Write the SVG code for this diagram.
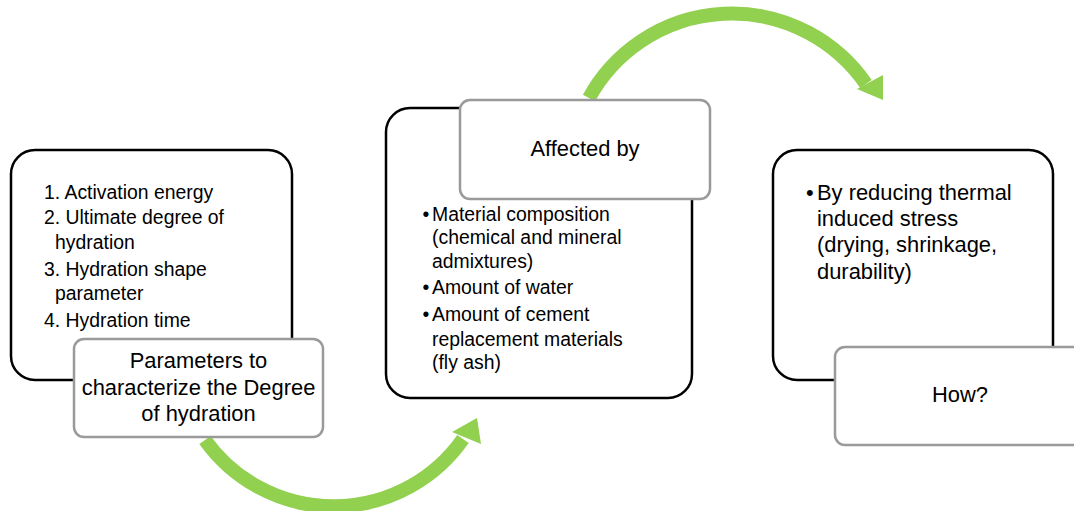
<svg xmlns="http://www.w3.org/2000/svg" width="1074" height="511" viewBox="0 0 1074 511">
<style>
.main{fill:#fff;stroke:#000;stroke-width:2.5}
.label{fill:#fff;stroke:#9a9a9a;stroke-width:2.5}
.arc{fill:none;stroke:#92D050;stroke-width:14}
.head{fill:#92D050}
text{font-family:"Liberation Sans",Arial,sans-serif;fill:#000}
.body{font-size:19.4px}
.big{font-size:21.9px}
.lab{font-size:21.9px;text-anchor:middle}
</style>
<rect width="1074" height="511" fill="#fff"/>
<g id="connectors">
<path class="arc" d="M205,440 A158,158 0 0 0 463,439"/>
<polygon class="head" points="452,432 477,418 481,444"/>
<path class="arc" d="M589,98 A163,163 0 0 1 866,84"/>
<polygon class="head" points="857,89 883,75 883,100"/>
</g>
<g id="node1">
<rect class="main" x="11" y="150" width="281" height="230" rx="24"/>
<text class="body" x="44" y="199">1. Activation energy</text>
<text class="body" x="44" y="224">2. Ultimate degree of</text>
<text class="body" x="55" y="249">hydration</text>
<text class="body" x="44" y="276">3. Hydration shape</text>
<text class="body" x="55" y="300">parameter</text>
<text class="body" x="44" y="327">4. Hydration time</text>
</g>
<g id="label1">
<rect class="label" x="74" y="339" width="249" height="98" rx="10"/>
<text class="lab" x="198.5" y="368">Parameters to</text>
<text class="lab" x="198.5" y="395">characterize the Degree</text>
<text class="lab" x="198.5" y="421">of hydration</text>
</g>
<g id="node2">
<rect class="main" x="386" y="108" width="306" height="290" rx="24"/>
<text class="body" x="422.5" y="221">•</text>
<text class="body" x="432" y="221">Material composition</text>
<text class="body" x="432" y="244">(chemical and mineral</text>
<text class="body" x="432" y="268">admixtures)</text>
<text class="body" x="422.5" y="294">•</text>
<text class="body" x="432" y="294">Amount of water</text>
<text class="body" x="422.5" y="321">•</text>
<text class="body" x="432" y="321">Amount of cement</text>
<text class="body" x="432" y="346">replacement materials</text>
<text class="body" x="432" y="369">(fly ash)</text>
</g>
<g id="label2">
<rect class="label" x="460" y="100" width="250" height="99" rx="10"/>
<text class="lab" x="585" y="156">Affected by</text>
</g>
<g id="node3">
<rect class="main" x="773" y="150" width="280" height="230" rx="24"/>
<text class="big" x="806" y="200">•</text>
<text class="big" x="817" y="200">By reducing thermal</text>
<text class="big" x="817" y="226">induced stress</text>
<text class="big" x="817" y="252">(drying, shrinkage,</text>
<text class="big" x="817" y="279">durability)</text>
</g>
<g id="label3">
<rect class="label" x="835" y="347" width="250" height="98" rx="10"/>
<text class="lab" x="960" y="402">How?</text>
</g>
</svg>
